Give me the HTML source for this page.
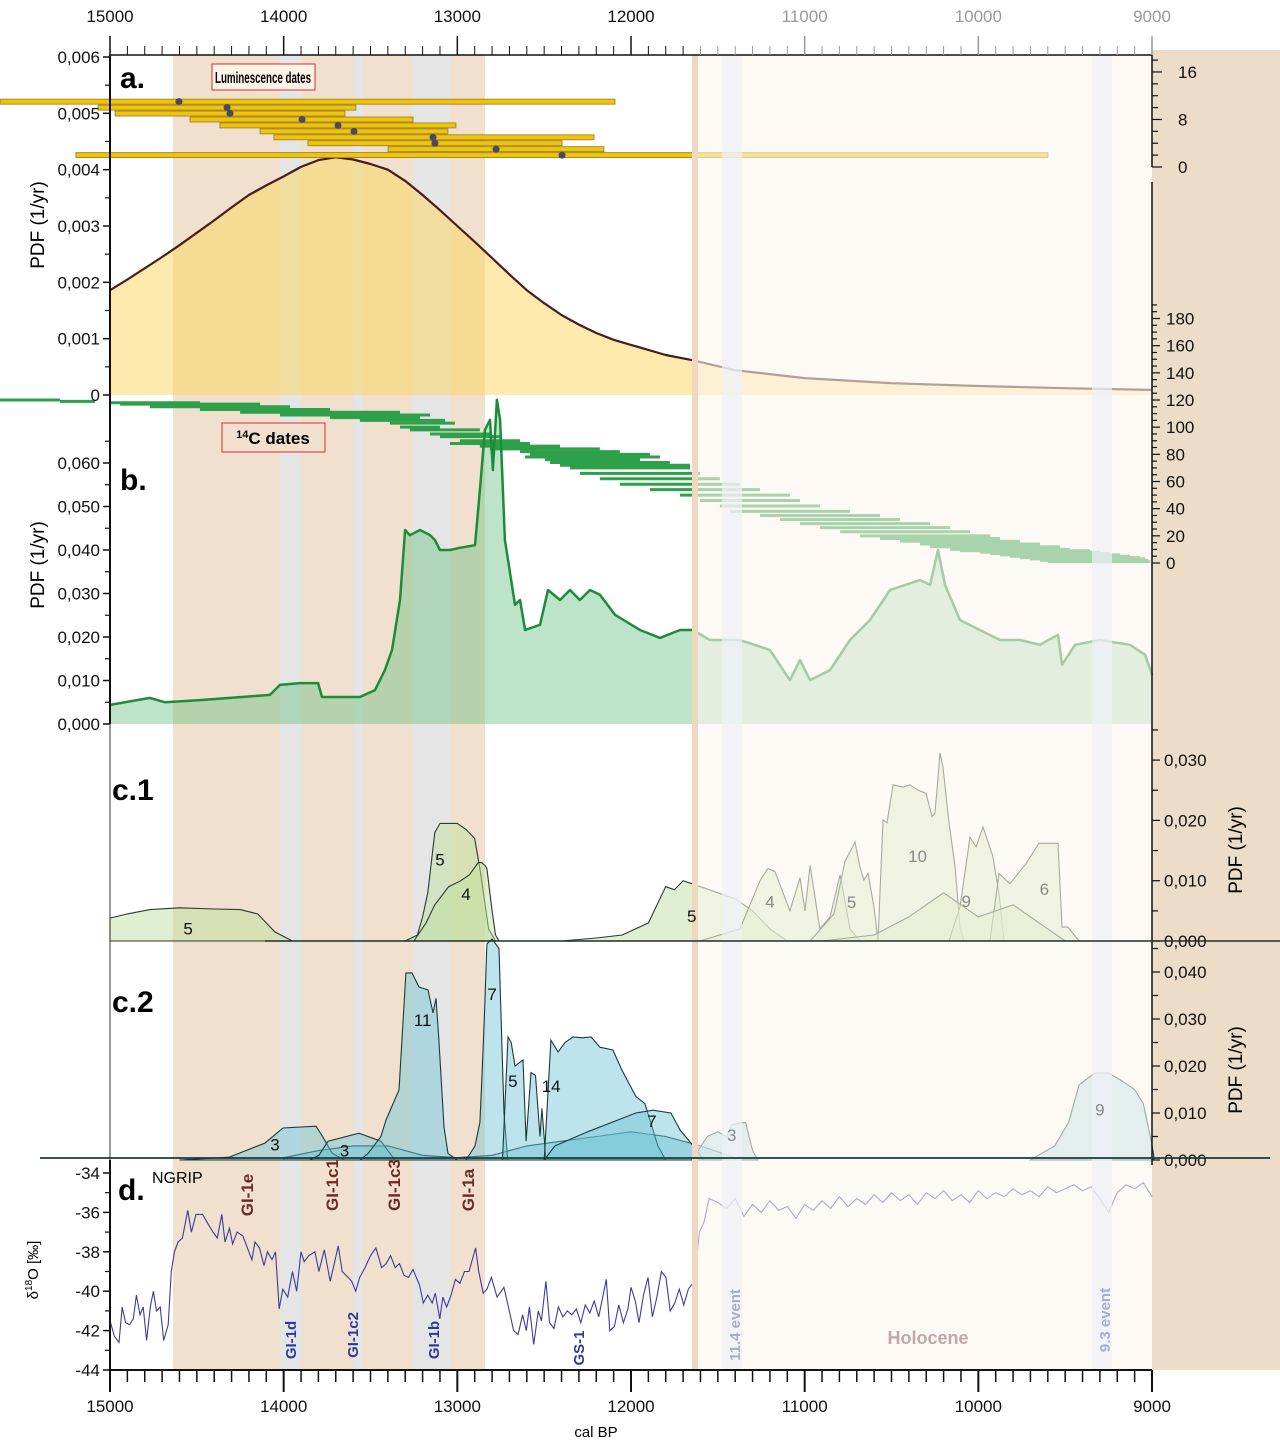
<!DOCTYPE html>
<html><head><meta charset="utf-8">
<style>
html,body{margin:0;padding:0;background:#fff;}
svg{display:block;font-family:"Liberation Sans",sans-serif;}
</style></head>
<body>
<svg id="chart" width="1280" height="1441" viewBox="0 0 1280 1441" xmlns="http://www.w3.org/2000/svg">
<rect x="1152" y="50" width="128" height="1320" fill="#ecdcc8"/>
<g id="bg">
<rect x="173" y="55" width="312" height="1315" fill="#f1e0cd"/>
<rect x="280" y="55" width="22" height="1315" fill="#e6e5e6"/>
<rect x="353" y="55" width="10" height="1315" fill="#e6e5e6"/>
<rect x="412" y="55" width="38" height="1315" fill="#e6e5e6"/>
</g>
<g id="marks"></g>
<g>
<rect x="693" y="55" width="459" height="1315" fill="rgb(251,245,238)" fill-opacity="0.6"/>
<rect x="722" y="55" width="20" height="1315" fill="#eef1f6" fill-opacity="0.7"/>
<rect x="1092" y="55" width="20" height="1315" fill="#eef1f6" fill-opacity="0.7"/>
<rect x="692" y="55" width="6" height="1315" fill="#efd8bf"/>
</g>
<g id="axes"></g>
<g id="labels" font-family="Liberation Sans, sans-serif">
<text x="120" y="88" font-size="30" font-weight="bold">a.</text>
<rect x="212" y="64" width="103" height="26" fill="#fdf3e6" stroke="#d83030" stroke-width="1"/>
<text x="263" y="83" font-size="16" font-weight="bold" text-anchor="middle" textLength="96" lengthAdjust="spacingAndGlyphs">Luminescence dates</text>
<text x="120" y="490" font-size="30" font-weight="bold">b.</text>
<rect x="222" y="423" width="103" height="29" fill="#f1e0cd" stroke="#d83030" stroke-width="1"/>
<text x="273" y="444" font-size="17" font-weight="bold" text-anchor="middle"><tspan font-size="11" dy="-6">14</tspan><tspan dy="6">C dates</tspan></text>
<text x="112" y="800" font-size="30" font-weight="bold">c.1</text>
<text x="112" y="1012" font-size="30" font-weight="bold">c.2</text>
<text x="118" y="1200" font-size="30" font-weight="bold">d.</text>
<text x="152" y="1183" font-size="16">NGRIP</text>
<text transform="translate(44,225) rotate(-90)" font-size="19" text-anchor="middle">PDF (1/yr)</text>
<text transform="translate(44,565) rotate(-90)" font-size="19" text-anchor="middle">PDF (1/yr)</text>
<text transform="translate(1242,850) rotate(-90)" font-size="19" text-anchor="middle">PDF (1/yr)</text>
<text transform="translate(1242,1070) rotate(-90)" font-size="19" text-anchor="middle">PDF (1/yr)</text>
<text transform="translate(38,1270) rotate(-90)" font-size="15" text-anchor="middle">δ<tspan font-size="10" dy="-6">18</tspan><tspan dy="6">O [‰]</tspan></text>
<text x="596" y="1437" font-size="15" text-anchor="middle">cal BP</text>
<g font-size="17" font-weight="bold" fill="#6b2a22">
<text transform="translate(253,1195) rotate(-90)" text-anchor="middle">GI-1e</text>
<text transform="translate(338,1185) rotate(-90)" text-anchor="middle">GI-1c1</text>
<text transform="translate(400,1185) rotate(-90)" text-anchor="middle">GI-1c3</text>
<text transform="translate(474,1190) rotate(-90)" text-anchor="middle">GI-1a</text>
</g>
<g font-size="15" font-weight="bold" fill="#2a3a9a">
<text transform="translate(296,1340) rotate(-90)" text-anchor="middle">GI-1d</text>
<text transform="translate(358,1335) rotate(-90)" text-anchor="middle">GI-1c2</text>
<text transform="translate(439,1340) rotate(-90)" text-anchor="middle">GI-1b</text>
<text transform="translate(584,1348) rotate(-90)" text-anchor="middle">GS-1</text>
<text transform="translate(740,1325) rotate(-90)" text-anchor="middle" fill="#a4acd0">11.4 event</text>
<text transform="translate(1110,1320) rotate(-90)" text-anchor="middle" fill="#a4acd0">9.3 event</text>
</g>
<text x="928" y="1344" font-size="18" font-weight="bold" fill="#c0a8a6" text-anchor="middle">Holocene</text>
</g>
</svg>
<script>
// ---------- data ----------
var pdfAYears=[15000,14900,14800,14700,14600,14500,14400,14300,14200,14100,14000,13900,13800,13700,13600,13500,13400,13300,13200,13100,13000,12900,12800,12700,12600,12500,12400,12300,12200,12100,12000,11900,11800,11650,11400,11000,10500,10000,9500,9000];
var pdfAVals=[0.00186,0.00205,0.00225,0.00245,0.00266,0.00288,0.0031,0.00333,0.00355,0.00372,0.00388,0.00405,0.00417,0.00422,0.00418,0.0041,0.004,0.0038,0.00355,0.00328,0.003,0.00272,0.00243,0.00214,0.00186,0.00163,0.00142,0.00125,0.0011,0.00098,0.00089,0.0008,0.00071,0.00062,0.00044,0.0003,0.00021,0.00016,0.00012,0.00009];
var lumIdx=[11,10,9,8,7,6,5,4,3,2];
var lumLo=[15633,15069,14971,14539,14367,14136,14056,13860,13399,15196];
var lumHi=[12092,13584,13647,13255,13008,13054,12213,12397,12156,9599];
var lumAge=[14603,14326,14309,13894,13687,13595,13140,13129,12777,12397];
var c14Idx=[120,119,118,117,115,113,111,109,107,105,103,100,98,95,93,90,88,86,84,82,80,78,76,74,72,70,66,62,58,54,50,46,42,38,35,32,29,26,23,20,18,16,14,12,10,9,8,7,6,5,4,3,2,1];
var c14Old=[15691,15288,15000,14942,14770,14482,14251,14021,13733,13561,13388,13330,13273,13157,13100,12985,13042,12870,12812,12639,12582,12610,12495,12466,12409,12351,12294,12179,12064,11891,11718,11603,11488,11430,11257,11142,11027,10912,10796,10681,10566,10451,10336,10278,10163,10106,9991,9933,9875,9818,9760,9703,9645,9600];
var c14Young=[15288,15086,14482,14136,13964,13733,13330,13157,13215,13071,13014,13100,12870,12812,12754,12639,12582,12409,12179,12064,11891,11833,11948,11776,11660,11660,11603,11488,11373,11257,11085,11027,10912,10739,10566,10451,10278,10163,10048,9933,9875,9760,9645,9530,9473,9357,9300,9242,9184,9127,9069,9040,9023,9010];
var pdfBYears=[15000,14770,14683,14482,14079,14021,13906,13802,13779,13676,13561,13474,13417,13376,13330,13301,13273,13215,13157,13129,13100,13042,12985,12898,12870,12841,12812,12795,12772,12754,12726,12668,12639,12610,12524,12478,12409,12351,12294,12236,12179,12092,11948,11833,11718,11643,11546,11373,11200,11085,11027,10969,10854,10739,10624,10508,10336,10278,10232,10192,10106,9991,9875,9760,9645,9541,9518,9443,9300,9127,9040,9000];
var pdfBVals=[0.0044,0.006,0.005,0.0055,0.0067,0.009,0.0094,0.0094,0.0062,0.0062,0.0062,0.0078,0.0124,0.017,0.0285,0.0446,0.0434,0.0446,0.0434,0.0423,0.04,0.04,0.0405,0.0411,0.0538,0.0676,0.0699,0.0584,0.0745,0.0699,0.0423,0.0274,0.0285,0.0216,0.0228,0.0308,0.0285,0.0308,0.0285,0.0308,0.0297,0.0251,0.0216,0.0198,0.0216,0.0216,0.0193,0.0193,0.017,0.0101,0.0147,0.0101,0.0124,0.0193,0.0239,0.0308,0.0331,0.032,0.04,0.032,0.0239,0.0216,0.0193,0.0193,0.0182,0.0205,0.0136,0.0182,0.0193,0.0182,0.0159,0.0113];
var c1Years1=[15000,14900,14770,14600,14400,14250,14150,14050,13950];
var c1Vals1=[0.0038,0.0045,0.0052,0.0055,0.0053,0.0052,0.0045,0.0015,0];
var c1Years2=[13300,13230,13200,13170,13130,13100,13000,12950,12900,12870,12850,12820,12780];
var c1Vals2=[0,0.001,0.004,0.008,0.018,0.0195,0.0195,0.0185,0.017,0.012,0.008,0.002,0];
var c1Years3=[13250,13180,13130,13050,12980,12930,12880,12860,12840,12830,12800,12780,12760];
var c1Vals3=[0,0.003,0.006,0.009,0.010,0.011,0.013,0.013,0.0125,0.012,0.005,0.001,0];
var c1Years4=[12400,12200,12050,11900,11850,11800,11750,11700,11650,11600,11500,11400,11300,11200,11100];
var c1Vals4=[0,0.0005,0.001,0.003,0.006,0.009,0.0085,0.010,0.0095,0.009,0.008,0.007,0.005,0.002,0];
var c1Years5=[11603,11373,11257,11212,11171,11085,11027,10998,10969,10912,10854,10796,10739,10681];
var c1Vals5=[0,0.002,0.010,0.012,0.0115,0.005,0.0105,0.005,0.0125,0.002,0.004,0.011,0.002,0];
var c1Years6=[10969,10831,10768,10710,10682,10659,10635,10601,10578];
var c1Vals6=[0,0.0045,0.0132,0.0164,0.0123,0.0101,0.0112,0.0056,0];
var c1Years7=[10578,10549,10526,10491,10434,10394,10347,10301,10267,10250,10238,10221,10204,10169,10134,10106,10083];
var c1Vals7=[0,0.0201,0.0196,0.0259,0.0255,0.0259,0.025,0.0245,0.0206,0.0212,0.025,0.0312,0.0289,0.0196,0.0123,0.0023,0];
var c1Years8=[10169,10106,10048,10013,9973,9916,9881,9852];
var c1Vals8=[0,0.0056,0.0172,0.0156,0.0189,0.014,0.0079,0];
var c1Years9=[9933,9881,9818,9726,9651,9541,9518,9484,9420];
var c1Vals9=[0,0.0112,0.0095,0.0128,0.0162,0.0162,0.0023,0.0023,0];
var c1Years10=[10900,10600,10400,10300,10200,10000,9800,9700,9600,9500];
var c1Vals10=[0,0.001,0.004,0.006,0.008,0.004,0.006,0.004,0.002,0];
var c2Years1=[14600,14315,14108,14004,13814,13774,13722,13650];
var c2Vals1=[0,0.0006,0.0036,0.0068,0.0072,0.0049,0.0015,0];
var c2Years2=[13850,13797,13745,13566,13440,13359];
var c2Vals2=[0,0.001,0.004,0.0057,0.004,0];
var c2Years3=[13560,13514,13440,13411,13336,13296,13261,13221,13169,13140,13123,13106,13077,13054,13000];
var c2Vals3=[0,0.0014,0.005,0.0085,0.0149,0.0398,0.0398,0.0368,0.0362,0.0313,0.0344,0.0255,0.007,0.0014,0];
var c2Years4=[12950,12898,12870,12858,12845,12830,12800,12760,12731,12710];
var c2Vals4=[0,0.003,0.008,0.018,0.030,0.046,0.047,0.045,0.01,0];
var c2Years5=[12740,12708,12690,12668,12622,12604,12576,12550,12524,12513,12490];
var c2Vals5=[0,0.0262,0.025,0.020,0.0213,0.004,0.0186,0.018,0.005,0.011,0];
var c2Years6=[12500,12461,12420,12380,12334,12280,12230,12179,12104,12052,11972,11920,11845,11800];
var c2Vals6=[0,0.0255,0.023,0.025,0.0262,0.026,0.0262,0.024,0.0234,0.0191,0.0135,0.012,0.003,0];
var c2Years7=[12500,12438,12250,11972,11874,11770,11718,11637,11580];
var c2Vals7=[0,0.003,0.006,0.010,0.0106,0.010,0.0064,0.0028,0];
var c2Years8=[11650,11560,11500,11450,11420,11380,11340,11300,11270];
var c2Vals8=[0,0.005,0.006,0.005,0.0075,0.0078,0.008,0.002,0];
var c2Years9=[9700,9560,9480,9420,9330,9250,9180,9100,9050,9010,8990];
var c2Vals9=[0,0.003,0.008,0.016,0.0185,0.0185,0.017,0.015,0.012,0.005,0.001];
var c2Years10=[14000,13800,13600,13400,13200,13000,12800,12600,12400,12200,12000,11800,11600,11400];
var c2Vals10=[0.0005,0.002,0.003,0.003,0.001,0.0005,0.001,0.003,0.004,0.005,0.006,0.005,0.003,0.0005];
var ngripYears=[15000,14974,14948,14930,14910,14887,14866,14848,14827,14809,14789,14768,14750,14732,14711,14691,14665,14647,14629,14608,14583,14552,14531,14505,14467,14441,14407,14382,14356,14338,14312,14294,14268,14235,14209,14183,14165,14139,14113,14093,14067,14047,14026,14005,13977,13949,13925,13900,13882,13856,13820,13797,13766,13732,13706,13686,13663,13629,13608,13585,13562,13531,13500,13469,13436,13410,13384,13358,13333,13307,13281,13255,13217,13196,13170,13145,13127,13101,13083,13062,13036,13011,12985,12959,12933,12895,12877,12851,12830,12804,12771,12732,12701,12676,12650,12624,12603,12585,12560,12534,12516,12490,12469,12444,12418,12392,12366,12341,12315,12289,12263,12237,12212,12186,12142,12122,12096,12070,12044,12018,12000,11975,11954,11928,11902,11877,11851,11825,11799,11774,11748,11722,11696,11670,11645,11624,11606,11580,11550,11500,11450,11400,11350,11300,11250,11200,11150,11100,11050,11000,10950,10900,10850,10800,10750,10700,10650,10600,10550,10500,10450,10400,10350,10300,10250,10200,10150,10100,10050,10000,9950,9900,9850,9800,9750,9700,9650,9600,9550,9500,9450,9400,9350,9300,9250,9200,9150,9100,9050,9000];
var ngripVals=[-41.5,-42.3,-42.6,-40.8,-41.6,-41.7,-41.4,-40.2,-41.2,-40.8,-42.5,-40.8,-40,-41,-40.8,-42.5,-41.7,-39,-38,-37.5,-37.3,-35.9,-37,-36.1,-36.1,-36.5,-37,-37.3,-36.1,-37.5,-36.8,-37.6,-37,-37.2,-37.8,-38.4,-37.5,-37.8,-38.7,-38,-38.4,-38,-40.9,-39.9,-40.3,-39,-40,-38,-38.5,-38.2,-38,-39,-37.9,-39.5,-38.5,-37.7,-39,-39.3,-39.5,-40,-39.3,-38.8,-38.2,-37.8,-38.8,-38.6,-38.2,-38.8,-38.6,-39.2,-39.3,-38.9,-39.7,-40.6,-40.2,-40.6,-40.1,-41.4,-40.3,-40.8,-40.2,-39.4,-39.6,-39,-39,-37.8,-39,-40.1,-39.9,-39.3,-40.3,-39.8,-41,-42,-42.2,-41.2,-42,-40.8,-42.7,-41,-41.5,-39.5,-41.6,-41.9,-40.8,-41.3,-41,-41.2,-40.9,-41.6,-40.7,-41.1,-40.5,-41.3,-39.4,-42,-41.8,-40.7,-41.6,-40.9,-39.8,-40.5,-41.6,-40.2,-39.3,-41.3,-40.3,-39,-39.3,-41,-40.6,-39.9,-40.7,-39.9,-39.6,-38.5,-37,-36.5,-35.3,-35.5,-35.8,-35.3,-36.2,-35.6,-36.0,-35.4,-35.9,-35.7,-36.3,-35.6,-35.9,-35.4,-35.8,-35.2,-35.7,-35.3,-35.6,-35.1,-35.5,-35.0,-35.4,-35.1,-35.6,-35.0,-35.3,-34.9,-35.4,-35.1,-35.5,-34.9,-35.3,-35.0,-35.2,-34.8,-35.1,-34.9,-35.2,-34.7,-35.0,-34.8,-34.6,-34.9,-34.7,-35.3,-36.0,-35.0,-34.6,-34.8,-34.5,-35.2];
var xTickLabels=["15000","14000","13000","12000","11000","10000","9000"];
var aTickLabels=["0,006","0,005","0,004","0,003","0,002","0,001","0"];
var bTickLabels=["0,060","0,050","0,040","0,030","0,020","0,010","0,000"];
var c1TickLabels=["0,030","0,020","0,010","0,000"];
var c2TickLabels=["0,040","0,030","0,020","0,010","0,000"];
var dTickLabels=["-34","-36","-38","-40","-42","-44"];
var lumTickLabels=["16","8","0"];
var c14TickLabels=["180","160","140","120","100","80","60","40","20","0"];

var SVGNS="http://www.w3.org/2000/svg";
function xs(t){return 110+(15000-t)*1042/6000;}
function ya(v){return 395-v*56333;}
function yLum(i){return 167-i*5.94;}
function yC14(i){return 563-i*1.3583;}
function yb(v){return 724-v*4350;}
function yc1(v){return 941-v*6030;}
function yc2(v){return 1160-v*4700;}
function yd(v){return 1173+(-34-v)*19.7;}
function addEl(tag,attrs,parent){var e=document.createElementNS(SVGNS,tag);for(var k in attrs){e.setAttribute(k,attrs[k]);}parent.appendChild(e);return e;}
function lineD(years,vals,yf){var d="";for(var i=0;i<years.length;i++){d+=(i?"L":"M")+xs(years[i]).toFixed(1)+","+yf(vals[i]).toFixed(1);}return d;}
function areaD(years,vals,yf,base){return lineD(years,vals,yf)+"L"+xs(years[years.length-1]).toFixed(1)+","+base+"L"+xs(years[0]).toFixed(1)+","+base+"Z";}

var marks=document.getElementById("marks");
var axes=document.getElementById("axes");

var e=addEl("path",{d:areaD(pdfAYears,pdfAVals,ya,395),fill:"#fcd55a","fill-opacity":"0.5",stroke:"none"},marks);


e=addEl("path",{d:lineD(pdfAYears,pdfAVals,ya),fill:"none",stroke:"#4a1c1c","stroke-width":"2.2","stroke-linejoin":"round"},marks);


for(var i=0;i<lumIdx.length;i++){
  var y=yLum(lumIdx[i]);
  var b=addEl("rect",{x:xs(lumLo[i]),y:y-2.5,width:xs(lumHi[i])-xs(lumLo[i]),height:5,fill:"#f5c400",stroke:"#8a7a40","stroke-width":"0.8"},marks);
  
  
  var c=addEl("circle",{cx:xs(lumAge[i]),cy:y,r:3.5,fill:"#4a4a5a"},marks);
  
  
}
e=addEl("path",{d:areaD(pdfBYears,pdfBVals,yb,724),fill:"#6cc084","fill-opacity":"0.45",stroke:"none"},marks);


for(var i=0;i<c14Idx.length;i++){
  var y=yC14(c14Idx[i]);
  var l=addEl("line",{x1:xs(c14Old[i]),x2:xs(c14Young[i]),y1:y,y2:y,stroke:"#2ea04a","stroke-width":"3"},marks);
  
  
}
e=addEl("path",{d:lineD(pdfBYears,pdfBVals,yb),fill:"none",stroke:"#1d8c3a","stroke-width":"2.5","stroke-linejoin":"round"},marks);



var c1Y=[c1Years1,c1Years2,c1Years3,c1Years4,c1Years5,c1Years6,c1Years7,c1Years8,c1Years9,c1Years10];
var c1V=[c1Vals1,c1Vals2,c1Vals3,c1Vals4,c1Vals5,c1Vals6,c1Vals7,c1Vals8,c1Vals9,c1Vals10];
for(var s=0;s<c1Y.length;s++){
  var p=addEl("path",{d:areaD(c1Y[s],c1V[s],yc1,941),fill:"#bfe0a0","fill-opacity":"0.5",stroke:"#2a3a30","stroke-width":"1.1"},marks);
  
  
}
var c2Y=[c2Years10,c2Years1,c2Years2,c2Years3,c2Years4,c2Years5,c2Years6,c2Years7,c2Years8,c2Years9];
var c2V=[c2Vals10,c2Vals1,c2Vals2,c2Vals3,c2Vals4,c2Vals5,c2Vals6,c2Vals7,c2Vals8,c2Vals9];
for(var s=0;s<c2Y.length;s++){
  var p=addEl("path",{d:areaD(c2Y[s],c2V[s],yc2,1160),fill:"#6cc4d4","fill-opacity":"0.45",stroke:"#1a3a3a","stroke-width":"1.1"},marks);
  
  
}
e=addEl("path",{d:lineD(ngripYears,ngripVals,yd),fill:"none",stroke:"#3a3c9c","stroke-width":"1.1"},marks);



function ln(x1,y1,x2,y2,w,col,name){var l=addEl("line",{x1:x1,y1:y1,x2:x2,y2:y2,stroke:col||"#111","stroke-width":w||1.5},axes);return l;}
function tx(x,y,s,anchor,size,col,name){var t=addEl("text",{x:x,y:y,"text-anchor":anchor,"font-size":size,fill:col||"#111"},axes);t.textContent=s;return t;}
ln(110,55,1152,55,1.5,"#111","top-axis-line");
ln(110,1370,1152,1370,2,"#111","bottom-axis-line");
for(var t=15000;t>=9000;t-=100){
  var x=xs(t),maj=(t%1000===0),hol=t<11650;
  var col=hol?"#999":"#111";
  ln(x,maj?36:46,x,55,maj?1.5:1,col,"top-tick");
  ln(x,1370,x,maj?1392:1382,maj?2:1.5,"#111","bottom-tick");
}
for(var i=0;i<xTickLabels.length;i++){
  var t=15000-i*1000,x=xs(t);
  tx(x,22,xTickLabels[i],"middle",17,t<11650?"#999":"#111","top-tick-label");
  tx(x,1412,xTickLabels[i],"middle",17,"#111","bottom-tick-label");
}
ln(110,55,110,395,2,"#111","axis-a-left");
ln(110,395,110,724,2,"#111","axis-b-left");
ln(110,724,110,1160,1,"#333","axis-c-left");
ln(110,1160,110,1370,2,"#111","axis-d-left");
for(var i=0;i<aTickLabels.length;i++){var v=0.006-i*0.001,y=ya(v);ln(103,y,110,y,1.5,"#111","a-tick");if(i<6)ln(105,ya(v-0.0005),110,ya(v-0.0005),1.2,"#111","a-minor-tick");tx(100,y+6,aTickLabels[i],"end",17,"#111","a-tick-label");}
for(var i=0;i<bTickLabels.length;i++){var v=0.06-i*0.01,y=yb(v);ln(103,y,110,y,1.5,"#111","b-tick");ln(105,yb(v+0.005),110,yb(v+0.005),1.2,"#111","b-minor-tick");tx(100,y+6,bTickLabels[i],"end",17,"#111","b-tick-label");}
for(var i=0;i<dTickLabels.length;i++){var v=-34-i*2,y=yd(v);ln(103,y,110,y,1.5,"#111","d-tick");if(i<5)ln(105,yd(v-1),110,yd(v-1),1.2,"#111","d-minor-tick");tx(100,y+6,dTickLabels[i],"end",17,"#111","d-tick-label");}
ln(1152,55,1152,167,1.5,"#111","axis-lum-right");
for(var i=0;i<=18;i+=2){var y=yLum(i);ln(1152,y,i%8===0?1162:1158,y,1.2,"#111","lum-tick");}
for(var i=0;i<lumTickLabels.length;i++){var y=yLum(16-i*8);tx(1178,y+6,lumTickLabels[i],"start",17,"#111","lum-tick-label");}
ln(1152,182,1152,1165,1.5,"#111","axis-right");
for(var i=0;i<=190;i+=5){var y=yC14(i);ln(1152,y,i%20===0?1160:1157,y,1.2,"#111","c14-tick");}
for(var i=0;i<c14TickLabels.length;i++){var y=yC14(180-i*20);tx(1166,y+6,c14TickLabels[i],"start",17,"#111","c14-tick-label");}
for(var i=0;i<c1TickLabels.length;i++){var v=0.03-i*0.01,y=yc1(v);ln(1152,y,1160,y,1.2,"#111","c1-tick");ln(1152,yc1(v+0.005),1158,yc1(v+0.005),1.2,"#111","c1-minor-tick");tx(1164,y+6,c1TickLabels[i],"start",17,"#111","c1-tick-label");}
for(var i=0;i<c2TickLabels.length;i++){var v=0.04-i*0.01,y=yc2(v);ln(1152,y,1160,y,1.2,"#111","c2-tick");ln(1152,yc2(v+0.005),1158,yc2(v+0.005),1.2,"#111","c2-minor-tick");tx(1164,y+6,c2TickLabels[i],"start",17,"#111","c2-tick-label");}
ln(265,941,1280,941,1.6,"#1e2e2a","c1-baseline");
ln(40,1158,1270,1158,1.8,"#1a3a3a","c2-baseline");
var c1LabelText=["5","5","4","5","4","5","10","9","6"];
var c1LabelYears=[14550,13100,12950,11650,11200,10730,10350,10070,9620];
var c1LabelVals=[0.0022,0.0137,0.008,0.0043,0.0067,0.0066,0.0143,0.0068,0.0088];
for(var i=0;i<c1LabelText.length;i++){tx(xs(c1LabelYears[i]),yc1(c1LabelVals[i])+7,c1LabelText[i],"middle",17,c1LabelYears[i]<11650?"#8a8a8a":"#111","c1-series-label");}
var c2LabelText=["3","3","11","7","5","14","7","3","9"];
var c2LabelYears=[14050,13650,13200,12800,12680,12460,11880,11420,9300];
var c2LabelVals=[0.0035,0.0022,0.0300,0.0355,0.0170,0.0160,0.0085,0.0055,0.0110];
for(var i=0;i<c2LabelText.length;i++){tx(xs(c2LabelYears[i]),yc2(c2LabelVals[i])+7,c2LabelText[i],"middle",17,c2LabelYears[i]<11650?"#8a8a8a":"#111","c2-series-label");}
</script>
</body></html>
